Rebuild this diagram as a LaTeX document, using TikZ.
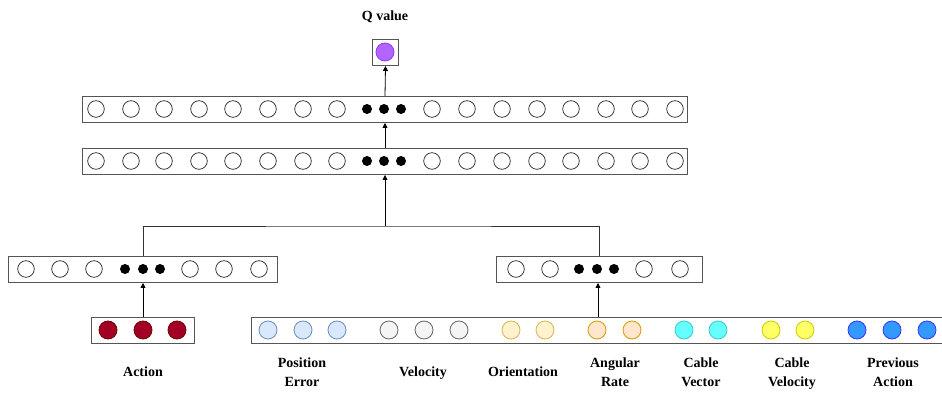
\documentclass[tikz,border=0pt]{standalone}
\usepackage{fontspec}
\setmainfont{Liberation Serif}
\usetikzlibrary{arrows.meta}
\definecolor{linegray}{HTML}{555555}
\definecolor{qfill}{HTML}{B266FF}
\definecolor{qdraw}{HTML}{9933FF}
\definecolor{actfill}{HTML}{A20025}
\definecolor{actdraw}{HTML}{6F0000}
\definecolor{pefill}{HTML}{DAE8FC}
\definecolor{pedraw}{HTML}{6C8EBF}
\definecolor{vefill}{HTML}{F5F5F5}
\definecolor{vedraw}{HTML}{666666}
\definecolor{orfill}{HTML}{FFF2CC}
\definecolor{ordraw}{HTML}{D6B656}
\definecolor{arfill}{HTML}{FFE6CC}
\definecolor{ardraw}{HTML}{D79B00}
\definecolor{cvfill}{HTML}{66FFFF}
\definecolor{cvdraw}{HTML}{33CCCC}
\definecolor{clfill}{HTML}{FFFF66}
\definecolor{cldraw}{HTML}{CCCC00}
\definecolor{pafill}{HTML}{3399FF}
\definecolor{padraw}{HTML}{3333FF}
\begin{document}
\begin{tikzpicture}[x=1pt,y=-1pt,
  bar/.style={draw=linegray, line width=1pt, fill=white, rectangle, inner sep=0pt, anchor=north west},
  neuron/.style={circle, draw=black!85, line width=0.7pt, fill=white, minimum size=16.6pt, inner sep=0pt},
  inneuron/.style={circle, line width=0.8pt, minimum size=18pt, inner sep=0pt},
  dotn/.style={circle, fill=black, minimum size=10pt, inner sep=0pt},
  lbl/.style={font=\fontsize{14}{19}\selectfont\bfseries, align=center, inner sep=0pt},
  arr/.style={-{Triangle[length=5pt,width=5pt]}, draw=black, line width=0.8pt},
  conn/.style={draw=black!80, line width=0.8pt}]
\clip (0,0) rectangle (942,395);
\fill[white] (0,0) rectangle (942,395);

% boxes
\node[bar, minimum width=26pt, minimum height=26pt] (q) at (372,39) {};
\node[bar, minimum width=605pt, minimum height=26pt] (l1) at (82,96) {};
\node[bar, minimum width=605pt, minimum height=26pt] (l2) at (82,148) {};
\node[bar, minimum width=269pt, minimum height=26pt] (hl) at (8,256) {};
\node[bar, minimum width=206pt, minimum height=26pt] (hr) at (496,256) {};
\node[bar, minimum width=103pt, minimum height=26pt] (act) at (91,317) {};
\node[bar, minimum width=710pt, minimum height=26pt] (inp) at (251,317) {};

% Q neuron
\node[inneuron, fill=qfill, draw=qdraw] (qn) at (385,52) {};
\node[lbl] (qlabel) at (385,17) {Q value\strut};

% layer neurons
\foreach \x [count=\i] in {96,131,164,199,233,268,303,337,432,467,502,537,571,606,640,675} {
  \node[neuron] (a\i) at (\x,109) {};
  \node[neuron] (b\i) at (\x,161) {};
}
\foreach \x [count=\i] in {367,384,401} {
  \node[dotn] (ad\i) at (\x,109) {};
  \node[dotn] (bd\i) at (\x,161) {};
}
\foreach \x [count=\i] in {26,60,94,190,224,259} {
  \node[neuron] (hl\i) at (\x,269) {};
}
\foreach \x [count=\i] in {125,143,160} {
  \node[dotn] (hld\i) at (\x,269) {};
}
\foreach \x [count=\i] in {516,550,644,680} {
  \node[neuron] (hr\i) at (\x,269) {};
}
\foreach \x [count=\i] in {579,597,614} {
  \node[dotn] (hrd\i) at (\x,269) {};
}

% action neurons
\foreach \x [count=\i] in {108,143,177} {
  \node[inneuron, fill=actfill, draw=actdraw] (ac\i) at (\x,330) {};
}

% input neurons
\foreach \x [count=\i] in {268,303,337} {\node[inneuron, fill=pefill, draw=pedraw] (pe\i) at (\x,330) {};}
\foreach \x [count=\i] in {389,424,459} {\node[inneuron, fill=vefill, draw=vedraw] (ve\i) at (\x,330) {};}
\foreach \x [count=\i] in {511,545} {\node[inneuron, fill=orfill, draw=ordraw] (or\i) at (\x,330) {};}
\foreach \x [count=\i] in {597,632} {\node[inneuron, fill=arfill, draw=ardraw] (ar\i) at (\x,330) {};}
\foreach \x [count=\i] in {684,718} {\node[inneuron, fill=cvfill, draw=cvdraw] (cv\i) at (\x,330) {};}
\foreach \x [count=\i] in {771,805} {\node[inneuron, fill=clfill, draw=cldraw] (cl\i) at (\x,330) {};}
\foreach \x [count=\i] in {857,892,927} {\node[inneuron, fill=pafill, draw=padraw] (pa\i) at (\x,330) {};}

% labels
\node[lbl] (lact) at (143,373) {Action\strut};
\node[lbl] (lpe) at (302,373) {Position\strut\\Error\strut};
\node[lbl] (lve) at (423,373) {Velocity\strut};
\node[lbl] (lor) at (523,373) {Orientation\strut};
\node[lbl] (lar) at (615,373) {Angular\strut\\Rate\strut};
\node[lbl] (lcv) at (701,373) {Cable\strut\\Vector\strut};
\node[lbl] (lcl) at (792,373) {Cable\strut\\Velocity\strut};
\node[lbl] (lpa) at (893,373) {Previous\strut\\Action\strut};

% connectors
\coordinate (m) at (385,226);
\coordinate (inpt) at (598,317);
\draw[arr] (l1.north) -- (q.south);
\draw[arr] (l2.north) -- (l1.south);
\draw[conn] (hl.north) |- (m) -| (hr.north);
\draw[arr] (m) -- (l2.south);
\draw[arr] (act.north) -- (hl.south);
\draw[arr] (inpt) -- (inpt |- hr.south);
\end{tikzpicture}
\end{document}
